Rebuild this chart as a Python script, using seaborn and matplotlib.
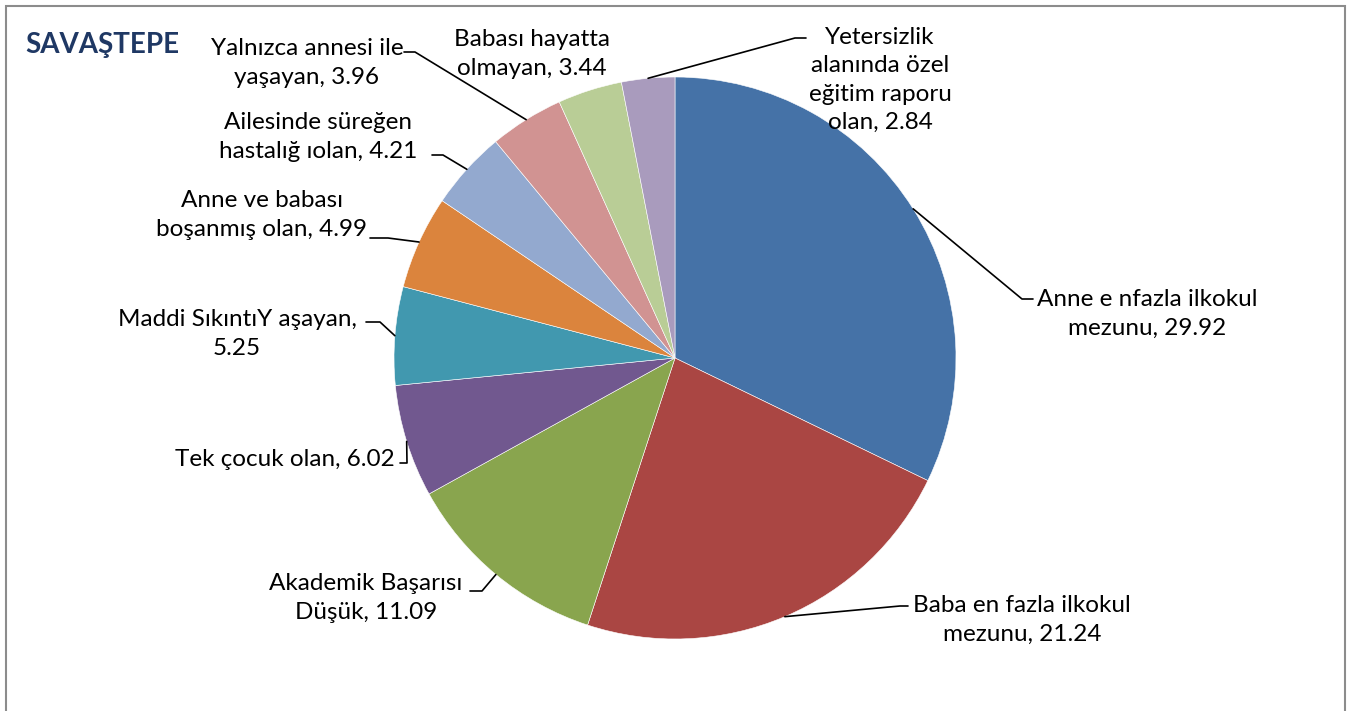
import matplotlib
matplotlib.use("Agg")
import matplotlib.pyplot as plt
from matplotlib.patches import Rectangle
import numpy as np
import seaborn as sns

# --- data ---
categories = [
    "Anne e nfazla ilkokul\nmezunu",
    "Baba en fazla ilkokul\nmezunu",
    "Akademik Başarısı\nDüşük",
    "Tek çocuk olan",
    "Maddi SıkıntıY aşayan,\n",
    "Anne ve babası\nboşanmış olan",
    "Ailesinde süreğen\nhastalığ ıolan",
    "Yalnızca annesi ile\nyaşayan",
    "Babası hayatta\nolmayan",
    "Yetersizlik\nalanında özel\neğitim raporu\nolan",
]
values = [29.92, 21.24, 11.09, 6.02, 5.25, 4.99, 4.21, 3.96, 3.44, 2.84]
colors = ["#4572A7", "#AA4643", "#89A54E", "#71588F", "#4198AF",
          "#DB843D", "#93A9CF", "#D19392", "#B9CD96", "#A99BBD"]
title = "SAVAŞTEPE"

# --- layout (pixel coords, y measured from top) ---
W, H = 1350, 711
CENTER = (675, 358)
RADIUS = 281
# label text centre, leader elbow, leader end (None = no leader)
label_pos = [(1147, 314), (1022, 620), (366, 598), (285, 460), (237, 334),
             (262, 215), (318, 137), (307, 63), (532, 54), (880, 80)]
elbows = [(1022, 299), (900, 606), (482, 591), (407, 463), (380, 322),
          (388, 238), (443, 155), (415, 52), None, (795, 38)]
ends = [(1033, 299), (908, 606), (470, 591), (400, 463), (366, 322),
        (370, 238), (432, 155), (404, 52), None, (806, 38)]


def px(x, y):
    return x, H - y


sns.set_style("white")
plt.rcParams['font.family'] = ['Lato', 'DejaVu Sans']

fig = plt.figure(figsize=(W / 100, H / 100), dpi=100)
ax = fig.add_axes([0, 0, 1, 1])

wedges, _ = ax.pie(values, colors=sns.color_palette(colors), startangle=90,
                   counterclock=False, center=px(*CENTER), radius=RADIUS,
                   wedgeprops=dict(edgecolor="white", linewidth=0.4))
ax.set_xlim(0, W)
ax.set_ylim(0, H)
ax.set_aspect('equal')
ax.axis('off')

cx, cy = px(*CENTER)
for i, (w, cat, val) in enumerate(zip(wedges, categories, values)):
    if cat.endswith(",\n"):
        text = f"{cat}{val:.2f}"
    else:
        text = f"{cat}, {val:.2f}"
    tx, ty = px(*label_pos[i])
    ax.text(tx, ty, text, ha='center', va='center', fontsize=17.5,
            linespacing=1.42, color='black')
    if elbows[i] is not None:
        mid = np.deg2rad((w.theta1 + w.theta2) / 2)
        sx, sy = cx + RADIUS * np.cos(mid), cy + RADIUS * np.sin(mid)
        ex, ey = px(*elbows[i])
        fx, fy = px(*ends[i])
        ax.plot([sx, ex, fx], [sy, ey, fy], color='black', lw=1.2)

fig.text(25 / W, 1 - 45 / H, title, ha='left', va='center', fontsize=20,
         fontweight='bold', color='#1F3864')

fig.patches.append(Rectangle((6 / W, -0.02), 1339 / W, 1.02 - 6 / H,
                             transform=fig.transFigure, fill=False,
                             edgecolor='#8c8c8c', linewidth=1.5))

fig.savefig("out.png", dpi=100)
